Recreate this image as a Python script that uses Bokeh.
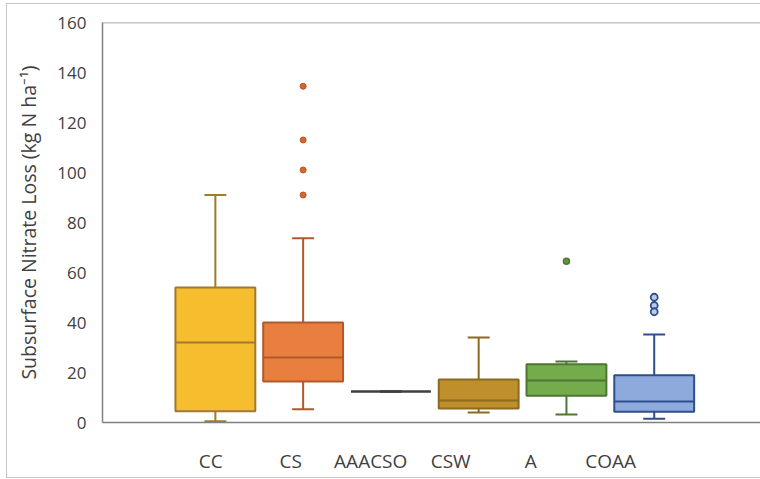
from bokeh.plotting import figure
from bokeh.models import Range1d, LinearAxis, FixedTicker, Span, ColumnDataSource
from bokeh.embed import file_html
from bokeh.resources import INLINE

# ---- data (kg N ha-1) ----
categories = ["CC", "CS", "AAACSO", "CSW", "A", "COAA"]
lower_whisker = [0.5, 5.3, 12.4, 4.0, 3.2, 1.5]
q1 = [4.5, 16.4, 12.4, 5.6, 10.7, 4.3]
median = [32.0, 26.0, 12.4, 8.8, 16.8, 8.4]
q3 = [54.0, 40.0, 12.4, 17.2, 23.3, 18.9]
upper_whisker = [91.0, 73.7, 12.4, 34.0, 24.4, 35.2]
outliers_cs = [134.5, 113.0, 101.0, 91.0]
outliers_a = [64.5]
outliers_coaa = [50.1, 46.8, 44.3]
y_ticks = [0, 20, 40, 60, 80, 100, 120, 140, 160]

# ---- styles ----
fills = ["#F6BD2E", "#E97F3F", "#3F3F3F", "#BF8F2B", "#74AB4B", "#8EA9DB"]
edges = ["#9E7C2A", "#B0592A", "#3F3F3F", "#8B6B1F", "#4D7733", "#2F4E8C"]
FONT = "Open Sans"
TXT = "#404040"

xs = list(range(1, len(categories) + 1))
cap = 0.125
src = ColumnDataSource(dict(
    x=xs, x0=[x - cap for x in xs], x1=[x + cap for x in xs],
    bx0=[x - 0.455 for x in xs], bx1=[x + 0.455 for x in xs],
    lw=lower_whisker, q1=q1, med=median, q3=q3, uw=upper_whisker,
    fill=fills, edge=edges,
))

p = figure(width=753, height=473, output_backend="svg", toolbar_location=None,
           x_range=Range1d(-0.286, 7.211), y_range=Range1d(0, 160),
           x_axis_location=None, y_axis_location=None,
           min_border_left=95, min_border_top=18, min_border_bottom=55,
           min_border_right=0)
p.outline_line_color = None
p.xgrid.visible = False
p.ygrid.visible = False
p.background_fill_color = "white"
p.border_fill_color = "white"
p.styles = {"margin-left": "7px", "margin-top": "4px",
            "outline": "1px solid #c4c4c4"}

# whisker stems
p.segment("x", "uw", "x", "q3", source=src, line_color="edge", line_width=2)
p.segment("x", "lw", "x", "q1", source=src, line_color="edge", line_width=2)
# caps
p.segment("x0", "uw", "x1", "uw", source=src, line_color="edge", line_width=2)
p.segment("x0", "lw", "x1", "lw", source=src, line_color="edge", line_width=2)
# boxes
p.vbar(x="x", width=0.91, bottom="q1", top="q3", source=src,
       fill_color="fill", line_color="edge", line_width=2)
# medians
p.segment("bx0", "med", "bx1", "med", source=src, line_color="edge", line_width=2)

# outliers
p.scatter([xs[1]] * len(outliers_cs), outliers_cs, size=6,
          fill_color="#D9652C", line_color="#B0592A", line_width=1)
p.scatter([xs[4]] * len(outliers_a), outliers_a, size=6,
          fill_color="#5E9A3A", line_color="#4D7733", line_width=1.5)
p.scatter([xs[5]] * len(outliers_coaa), outliers_coaa, size=7,
          fill_color="#B8CAEB", line_color="#2F4E8C", line_width=1.8)

# top frame line
p.add_layout(Span(location=160, dimension="width", line_color="#8C8C8C", line_width=1.5))

# y axis
yax = LinearAxis(ticker=FixedTicker(ticks=y_ticks))
yax.axis_label = "Subsurface Nitrate Loss (kg N ha\u207b\u00b9)"
yax.axis_label_text_font = FONT
yax.axis_label_text_font_style = "normal"
yax.axis_label_text_font_size = "19.5px"
yax.axis_label_text_color = TXT
yax.axis_label_standoff = 12
yax.major_label_text_font = FONT
yax.major_label_text_font_size = "17px"
yax.major_label_text_color = TXT
yax.major_label_standoff = 10
yax.major_tick_line_color = None
yax.minor_tick_line_color = None
yax.axis_line_color = "#808080"
yax.axis_line_width = 1.5
p.add_layout(yax, "left")

# category label axis
p.extra_x_ranges = {"labels": Range1d(-0.354, 7.874)}
xax = LinearAxis(x_range_name="labels", ticker=FixedTicker(ticks=xs))
xax.major_label_overrides = {x: c for x, c in zip(xs, categories)}
xax.major_label_text_font = FONT
xax.major_label_text_font_size = "19px"
xax.major_label_text_color = TXT
xax.major_label_standoff = 19
xax.major_tick_line_color = None
xax.minor_tick_line_color = None
xax.axis_line_color = "#808080"
xax.axis_line_width = 1.5
p.add_layout(xax, "below")

open("out.html", "w").write(file_html(p, INLINE))
